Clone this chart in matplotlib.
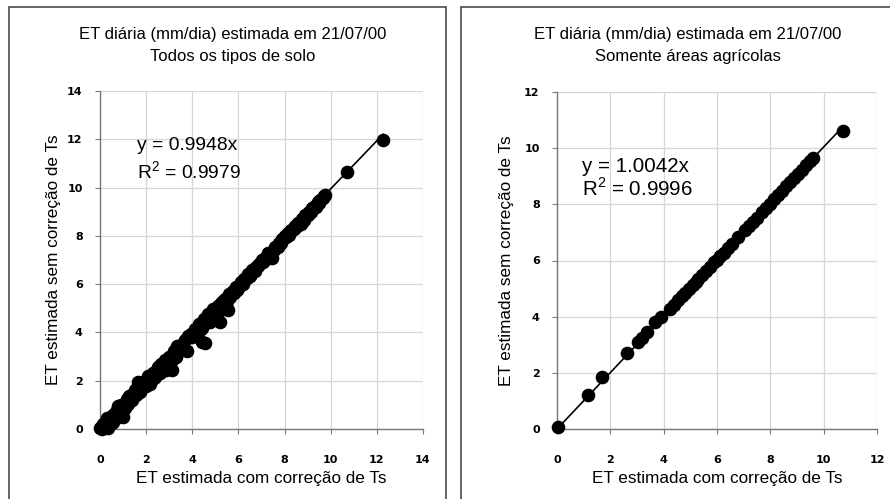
import matplotlib
matplotlib.use("Agg")
import matplotlib.pyplot as plt
from matplotlib.patches import Rectangle
import numpy as np

# ---------------- data ----------------
title_line1 = "ET diária (mm/dia) estimada em 21/07/00"
left_subtitle = "Todos os tipos de solo"
right_subtitle = "Somente áreas agrícolas"
xlabel = "ET estimada com correção de Ts"
ylabel = "ET estimada sem correção de Ts"

left_slope = 0.9948
left_r2 = 0.9979
right_slope = 1.0042
right_r2 = 0.9996

left_ticks = [0, 2, 4, 6, 8, 10, 12, 14]
right_ticks = [0, 2, 4, 6, 8, 10, 12]

left_x = [0.02, 0.08, 0.10, 0.15, 0.20, 0.25, 0.30, 0.35, 0.38, 0.45, 0.50, 0.55,
          0.60, 0.70, 0.75, 0.85, 0.90, 1.00, 1.05, 1.15, 1.20, 1.30, 1.45, 1.55,
          1.60, 1.65, 1.80, 1.95, 2.00, 2.10, 2.20, 2.30, 2.40, 2.50, 2.55, 2.65,
          2.70, 2.80, 2.90, 3.00, 3.05, 3.10, 3.20, 3.25, 3.35, 3.40, 3.50, 3.60,
          3.80, 3.95, 4.10, 4.20, 4.30, 4.40, 4.42, 4.50, 4.55, 4.60, 4.70, 4.80,
          4.90, 5.00, 5.10, 5.20, 5.25, 5.40, 5.50, 5.55, 5.60, 5.75, 5.90, 6.00,
          6.10, 6.25, 6.40, 6.50, 6.60, 6.75, 6.90, 7.00, 7.15, 7.30, 7.45, 7.60,
          7.75, 7.90, 8.00, 8.15, 8.30, 8.45, 8.60, 8.80, 8.75, 8.90, 9.05, 9.20,
          9.30, 9.45, 9.55, 9.70, 10.70, 12.27,
          0.30, 0.50, 0.65, 0.80, 0.95, 1.10, 1.25, 1.40, 1.50, 1.75, 1.90, 2.05,
          2.15, 2.35, 2.45, 2.60, 2.75, 2.85, 2.95, 3.15, 3.30, 3.45, 3.55, 3.70,
          3.75, 4.00, 4.15, 4.25, 4.35, 4.50, 4.65, 4.75, 4.85, 4.95, 5.05, 5.15,
          5.30, 5.35, 5.45, 5.65, 5.80, 5.95, 6.05, 6.20, 6.35, 6.55, 6.70, 6.85,
          7.05, 7.20, 7.40, 7.55, 7.70, 7.85, 8.05, 8.20, 8.40, 8.55, 8.70, 8.85,
          9.00, 9.15, 9.35, 9.50, 9.65, 9.75]
left_y = [0.05, 0.12, 0.02, 0.20, 0.10, 0.30, 0.22, 0.05, 0.40, 0.35, 0.52, 0.30,
          0.62, 0.55, 0.80, 0.70, 1.00, 0.50, 0.95, 1.25, 1.05, 1.20, 1.45, 1.40,
          1.70, 1.95, 1.75, 2.00, 1.80, 2.20, 2.05, 2.30, 2.15, 2.55, 2.35, 2.70,
          2.50, 2.85, 2.70, 3.00, 2.75, 2.45, 3.25, 3.05, 3.45, 3.20, 3.50, 3.30,
          3.85, 3.95, 4.15, 4.00, 4.35, 4.20, 3.60, 4.55, 3.55, 4.45, 4.75, 4.60,
          4.95, 4.80, 5.10, 4.43, 5.20, 5.40, 5.30, 4.93, 5.60, 5.70, 5.90, 5.85,
          6.10, 6.20, 6.40, 6.35, 6.60, 6.70, 6.85, 7.00, 7.10, 7.30, 7.10, 7.55,
          7.70, 7.85, 8.00, 8.10, 8.25, 8.40, 8.55, 8.60, 8.70, 8.85, 9.00, 9.15,
          9.25, 9.40, 9.50, 9.65, 10.65, 11.97,
          0.45, 0.25, 0.40, 0.95, 0.75, 0.85, 1.35, 1.20, 1.60, 1.55, 1.85, 1.95,
          1.85, 2.10, 2.45, 2.30, 2.55, 2.45, 2.85, 2.90, 3.00, 3.35, 3.40, 3.70,
          3.25, 3.80, 4.05, 4.20, 4.10, 4.35, 4.55, 4.45, 4.80, 4.65, 4.95, 4.90,
          5.05, 5.30, 5.15, 5.45, 5.65, 5.75, 6.00, 6.00, 6.25, 6.40, 6.55, 6.75,
          6.90, 7.05, 7.30, 7.40, 7.55, 7.70, 7.95, 8.05, 8.30, 8.40, 8.50, 8.65,
          8.85, 9.00, 9.20, 9.35, 9.55, 9.70]

right_x = [0.05, 1.16, 1.69, 2.62, 3.04, 3.19, 3.37, 3.67, 3.90, 4.25, 4.40, 4.54,
           4.68, 4.80, 4.95, 5.10, 5.20, 5.29, 5.45, 5.60, 5.75, 5.90, 6.00, 6.12,
           6.25, 6.40, 6.56, 6.80, 7.05, 7.20, 7.35, 7.50, 7.69, 7.85, 7.99, 8.15,
           8.29, 8.45, 8.60, 8.75, 8.90, 9.04, 9.20, 9.35, 9.50, 9.60, 10.72]
right_y = [0.07, 1.21, 1.85, 2.70, 3.10, 3.24, 3.45, 3.80, 3.99, 4.28, 4.43, 4.58,
           4.72, 4.84, 4.98, 5.14, 5.25, 5.33, 5.48, 5.63, 5.78, 5.93, 6.03, 6.15,
           6.28, 6.43, 6.60, 6.83, 7.08, 7.23, 7.38, 7.53, 7.73, 7.88, 8.02, 8.18,
           8.33, 8.48, 8.64, 8.79, 8.94, 9.08, 9.24, 9.39, 9.54, 9.64, 10.62]

# ---------------- style ----------------
plt.rcParams['font.family'] = ['Liberation Sans', 'DejaVu Sans']

W, H = 890, 499
fig = plt.figure(figsize=(W / 100, H / 100), dpi=100)

def fx(px):
    return px / W

def fy(py):
    return (H - py) / H

# panel frames
fig.patches.append(Rectangle((fx(9), -0.05), fx(446) - fx(9), fy(7) + 0.05,
                             transform=fig.transFigure, fill=False,
                             edgecolor='#4a4a4a', lw=1.2))
fig.patches.append(Rectangle((fx(461), -0.05), 0.6, fy(7) + 0.05,
                             transform=fig.transFigure, fill=False,
                             edgecolor='#4a4a4a', lw=1.2))


def make_panel(rect_px, xs, ys, slope, r2, ticks, subtitle, title_cx,
               eq_x, eq_y1, eq_y2, eq_size, ylab_x):
    x0, x1, ytop, ybot = rect_px
    ax = fig.add_axes([fx(x0), fy(ybot), fx(x1) - fx(x0), fy(ytop) - fy(ybot)])
    lim = ticks[-1]
    ax.set_xlim(0, lim)
    ax.set_ylim(0, lim)
    ax.set_xticks(ticks)
    ax.set_yticks(ticks)
    ax.set_xticklabels([str(t) for t in ticks])
    ax.set_yticklabels([str(t) for t in ticks])
    for lab in ax.get_xticklabels() + ax.get_yticklabels():
        lab.set_family('DejaVu Sans')
        lab.set_fontweight('bold')
        lab.set_fontsize(8)
    ax.grid(True, color='#d6d6d6', lw=0.9)
    ax.set_axisbelow(True)
    for s in ['top', 'right']:
        ax.spines[s].set_visible(False)
    for s in ['left', 'bottom']:
        ax.spines[s].set_color('#777777')
        ax.spines[s].set_linewidth(1.0)
    ax.tick_params(axis='x', direction='out', length=3.5, color='#777777', pad=15)
    ax.tick_params(axis='y', direction='out', length=3.5, color='#777777', pad=9)

    xmax = max(xs)
    lx = np.array([0, xmax])
    ax.plot(lx, slope * lx, color='black', lw=1.2, zorder=3, clip_on=False)
    ax.plot(xs, ys, 'o', color='black', ms=8.8, zorder=4, clip_on=False)

    ax.set_xlabel(xlabel, fontsize=12.3)
    ax.set_ylabel(ylabel, fontsize=12.3)
    h = ybot - ytop
    w = x1 - x0
    ax.xaxis.set_label_coords(0.5, (ybot - 479) / h)
    ax.yaxis.set_label_coords((ylab_x - x0) / w, 0.5)
    for l in [ax.xaxis.label, ax.yaxis.label]:
        l.set_va('center')
        l.set_ha('center')

    fig.text(fx(title_cx), fy(35), title_line1, ha='center', va='center', fontsize=12)
    fig.text(fx(title_cx), fy(57), subtitle, ha='center', va='center', fontsize=12)
    fig.text(fx(eq_x), fy(eq_y1), f"y = {slope:.4f}x", ha='left', va='center',
             fontsize=eq_size)
    fig.text(fx(eq_x), fy(eq_y2), r"R$^{\mathregular{2}}$" + f" = {r2:.4f}",
             ha='left', va='center', fontsize=eq_size)
    return ax


make_panel((100, 423, 91, 429), left_x, left_y, left_slope, left_r2, left_ticks,
           left_subtitle, 233, 137, 146, 172, 13.9, 54)
make_panel((557, 877, 92, 429), right_x, right_y, right_slope, right_r2, right_ticks,
           right_subtitle, 688, 582, 167, 188, 14.8, 506)

fig.savefig("out.png", dpi=100)
